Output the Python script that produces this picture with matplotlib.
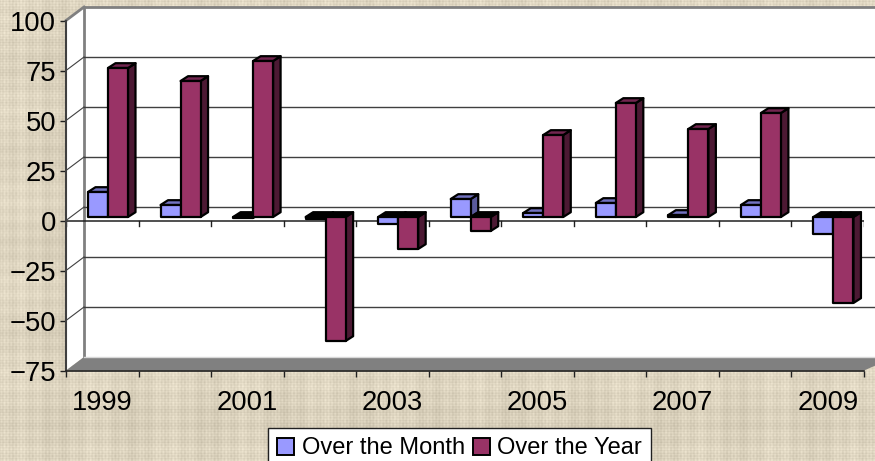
import matplotlib
matplotlib.use('Agg')
import matplotlib.pyplot as plt
import numpy as np
from matplotlib.patches import Polygon, Patch

plt.rcParams['font.family'] = ['Liberation Sans', 'DejaVu Sans']

years = ['1999', '2000', '2001', '2002', '2003', '2004', '2005', '2006', '2007', '2008', '2009']
tick_labels = ['1999', '', '2001', '', '2003', '', '2005', '', '2007', '', '2009']
over_month = [12.5, 6, -0.5, -1, -3.5, 9, 2, 7, 1, 6, -8.5]
over_year = [74.5, 68, 78, -62, -16, -7, 41, 57, 44, 52, -43]
y_ticks = [-75, -50, -25, 0, 25, 50, 75, 100]

W, H = 875, 461
X_PX = 72.55  # pixels per category
Y_PX = 2.0    # pixels per value unit
WALL_DX = 18 / X_PX
WALL_DY = 6.75
BAR_W = 20 / X_PX
BAR_X0 = 22 / X_PX
BAR_DY = 1.75
SIDE_DX = 7.5 / X_PX
SIDE_DY = 2.4

month_cols = ('#9999ff', '#7272c0', '#5a5a9c')
year_cols = ('#993366', '#732650', '#4c1933')


def poly(ax, pts, color, z):
    ax.add_patch(Polygon(pts, closed=True, facecolor=color, edgecolor='#000000',
                         linewidth=1.6, joinstyle='round', zorder=z, clip_on=False))


def draw_bar(ax, x, v, cols, z):
    y0 = BAR_DY
    y1 = BAR_DY + v
    top = max(y0, y1)
    bottom = min(y0, y1)
    top_col = cols[1] if v > 0 else '#000000'
    # side first, then top, then front
    poly(ax, [(x + BAR_W, bottom), (x + BAR_W + SIDE_DX, bottom + SIDE_DY),
              (x + BAR_W + SIDE_DX, top + SIDE_DY), (x + BAR_W, top)], cols[2], z)
    poly(ax, [(x, top), (x + SIDE_DX, top + SIDE_DY),
              (x + BAR_W + SIDE_DX, top + SIDE_DY), (x + BAR_W, top)], top_col, z)
    poly(ax, [(x, bottom), (x + BAR_W, bottom), (x + BAR_W, top), (x, top)], cols[0], z)


fig = plt.figure(figsize=(W / 100, H / 100), dpi=100)

# woven paper background
bg = fig.add_axes([0, 0, 1, 1], zorder=0)
xx = np.arange(W)
yy = np.arange(H)
col_wave = np.sin(xx * 1.9) + 0.7 * np.sin(xx * 0.37) + 0.6 * np.sin(xx * 0.083)
row_wave = np.sin(yy * 2.3) + 0.7 * np.sin(yy * 0.41) + 0.6 * np.sin(yy * 0.071)
weave = 0.5 * np.add.outer(row_wave, col_wave) + 0.35 * np.multiply.outer(np.sin(yy * 0.9), np.sin(xx * 1.3))
base = np.array([220, 211, 190]) / 255
bg.imshow(np.clip(base[None, None, :] + weave[:, :, None] * 0.04, 0, 1), aspect='auto')
bg.axis('off')

ax = fig.add_axes([66 / W, 1 - 370.5 / H, 798 / W, 350 / H], zorder=1)
ax.set_xlim(0, len(years) * 1.0)
ax.set_ylim(-75, 100)
ax.patch.set_alpha(0)
n = len(years)
x_end = (W + 20 - 66) / X_PX

# walls
ax.add_patch(Polygon([(WALL_DX, -75 + WALL_DY), (x_end, -75 + WALL_DY), (x_end, 100 + WALL_DY), (WALL_DX, 100 + WALL_DY)],
                     facecolor='white', edgecolor='none', zorder=1, clip_on=False))
ax.add_patch(Polygon([(0, -75), (WALL_DX, -75 + WALL_DY), (WALL_DX, 100 + WALL_DY), (0, 100)],
                     facecolor='white', edgecolor='none', zorder=1, clip_on=False))
ax.add_patch(Polygon([(0, -75), (WALL_DX, -75 + WALL_DY), (x_end, -75 + WALL_DY), (n, -75)],
                     facecolor='#808080', edgecolor='none', zorder=1.5, clip_on=False))
ax.plot([WALL_DX, WALL_DX, x_end], [-75 + WALL_DY, 100 + WALL_DY, 100 + WALL_DY], color='#808080',
        lw=2, zorder=2, clip_on=False)
ax.plot([0, WALL_DX], [100, 100 + WALL_DY], color='#808080', lw=2, zorder=2, clip_on=False)
ax.plot([WALL_DX, x_end], [-75 + WALL_DY, -75 + WALL_DY], color='#d8d8d8', lw=1, zorder=2, clip_on=False)

# gridlines with their bit on the side wall
for t in y_ticks[1:-1]:
    ax.plot([WALL_DX, x_end], [t + WALL_DY, t + WALL_DY], color='#404040', lw=1.0, zorder=2, clip_on=False)
    ax.plot([0, WALL_DX], [t, t + WALL_DY], color='#404040', lw=0.8, zorder=2, clip_on=False)

# zero axis
ax.plot([0, n], [0, 0], color='#202020', lw=1.1, zorder=3)
for i in range(n + 1):
    ax.plot([i, i], [0, -2.5], color='#202020', lw=1.0, zorder=3)

for i in range(n):
    draw_bar(ax, i + BAR_X0, over_month[i], month_cols, 4 + i * 0.1)
    draw_bar(ax, i + BAR_X0 + BAR_W, over_year[i], year_cols, 4.05 + i * 0.1)

ax.set_yticks(y_ticks)
ax.set_xticks(np.arange(n + 1))
ax.set_xticklabels([])
ax.set_xticks(np.arange(n) + 0.5, tick_labels, minor=True)
ax.tick_params(axis='x', which='minor', length=0, labelsize=19.7, pad=14)
ax.tick_params(axis='x', which='major', length=4, width=1.0, color='#202020')
ax.tick_params(axis='y', length=4, width=1.0, color='#202020', labelsize=19.7, pad=3)
for s in ['top', 'right']:
    ax.spines[s].set_visible(False)
ax.spines['left'].set_color('#404040')
ax.spines['left'].set_linewidth(1.5)
ax.spines['bottom'].set_color('#202020')
ax.spines['bottom'].set_linewidth(1.2)
ax.spines['left'].set_zorder(3)
ax.spines['bottom'].set_zorder(3)

handles = [Patch(facecolor=month_cols[0], edgecolor='black', linewidth=1.4),
           Patch(facecolor=year_cols[0], edgecolor='black', linewidth=1.4)]
leg = fig.legend(handles, ['Over the Month', 'Over the Year'], loc='upper left',
                 bbox_to_anchor=(268 / W, 1 - 428 / H), borderaxespad=0, ncol=2, fontsize=17.0,
                 frameon=True, fancybox=False, framealpha=1, edgecolor='#202020',
                 handlelength=0.72, handleheight=0.72, handletextpad=0.3, columnspacing=0.35,
                 borderpad=0.4)
leg.get_frame().set_linewidth(1.0)
leg.set_zorder(10)

fig.savefig('out.png', dpi=100)
